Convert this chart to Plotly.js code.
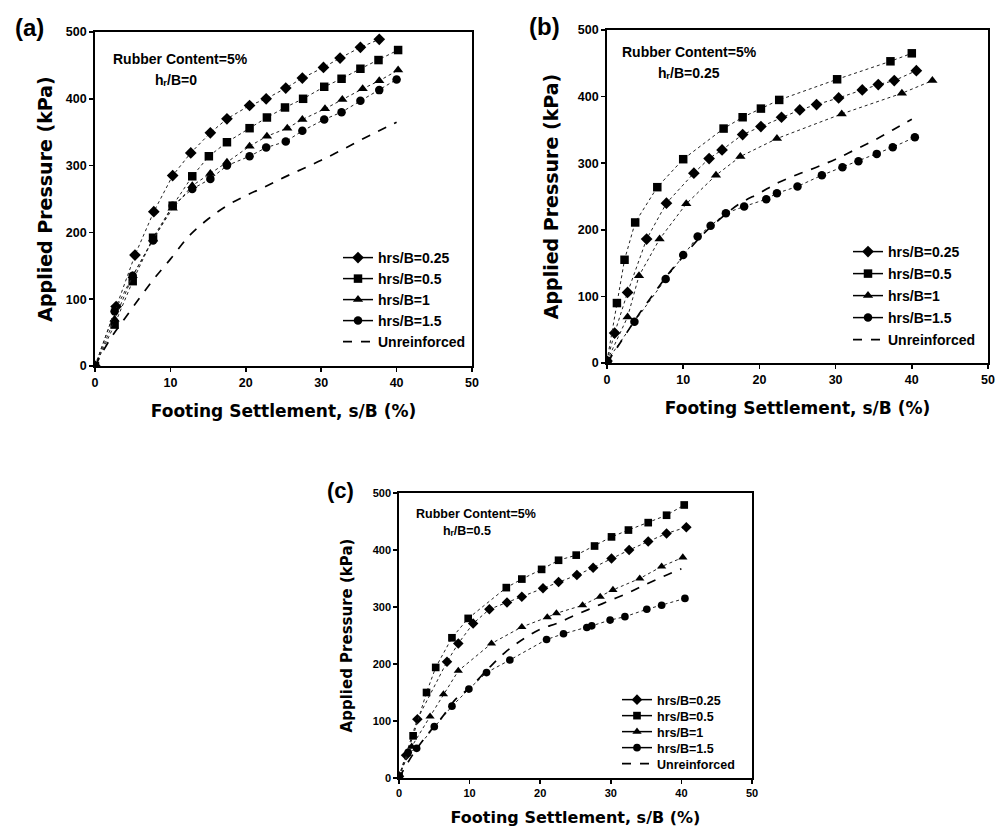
<!DOCTYPE html>
<html>
<head>
<meta charset="utf-8">
<script src="https://cdn.plot.ly/plotly-3.0.1.min.js"></script>
<style>html,body{margin:0;padding:0;background:#fff;}#chart{width:998px;height:831px;}</style>
</head>
<body>
<div id="chart"></div>
<script>
// ---------- Panel (a): hr/B = 0 ----------
const a_x025 = [0, 2.8, 5.3, 7.8, 10.3, 12.7, 15.3, 17.5, 20.5, 22.7, 25.3, 27.5, 30.3, 32.5, 35.2, 37.7];
const a_y025 = [0, 89, 166, 231, 285, 319, 349, 370, 390, 400, 416, 431, 447, 461, 477, 489];
const a_x05  = [0, 2.6, 5.0, 7.7, 10.3, 12.9, 15.1, 17.5, 20.5, 22.8, 25.2, 27.6, 30.4, 32.7, 35.2, 37.6, 40.2];
const a_y05  = [0, 62, 127, 192, 240, 284, 314, 335, 356, 372, 387, 400, 418, 430, 445, 458, 473];
const a_x1   = [0, 2.6, 5.0, 7.7, 10.3, 12.9, 15.3, 17.5, 20.5, 22.8, 25.5, 27.5, 30.5, 32.8, 35.5, 37.7, 40.2];
const a_y1   = [0, 70, 135, 190, 236, 270, 288, 305, 329, 344, 356, 369, 385, 399, 415, 427, 443];
const a_x15  = [0, 2.6, 5.0, 7.7, 10.3, 12.9, 15.3, 17.5, 20.5, 22.7, 25.3, 27.5, 30.4, 32.7, 35.2, 37.7, 40];
const a_y15  = [0, 82, 135, 188, 240, 265, 280, 300, 314, 327, 336, 352, 369, 380, 397, 413, 429];
const a_xU   = [0, 2, 4, 6, 8, 10, 12.5, 15, 17.5, 20, 22.5, 25, 27.5, 30, 32.5, 35, 37.5, 40];
const a_yU   = [0, 40, 72, 103, 133, 160, 195, 220, 240, 255, 268, 282, 295, 308, 322, 337, 351, 365];

// ---------- Panel (b): hr/B = 0.25 ----------
const b_x025 = [0, 1.0, 2.7, 5.2, 7.8, 11.4, 13.4, 15.1, 17.8, 20.2, 22.9, 25.3, 27.5, 30.4, 33.5, 35.6, 37.7, 40.6];
const b_y025 = [3, 45, 106, 186, 240, 285, 307, 320, 343, 355, 369, 380, 388, 398, 410, 418, 424, 439];
const b_x05  = [0, 1.3, 2.3, 3.7, 6.6, 10, 15.3, 17.8, 20.2, 22.6, 30.2, 37.2, 40.0];
const b_y05  = [3, 90, 155, 211, 264, 306, 352, 369, 382, 395, 426, 453, 465];
const b_x1   = [0, 2.7, 4.2, 6.9, 10.4, 14.3, 17.5, 22.3, 30.8, 38.7, 42.7];
const b_y1   = [3, 69, 131, 186, 239, 282, 310, 337, 374, 405, 424];
const b_x15  = [0, 3.6, 7.7, 10.0, 11.9, 13.6, 15.6, 18.0, 20.9, 22.3, 25.0, 28.2, 30.9, 33.0, 35.4, 37.5, 40.4];
const b_y15  = [3, 62, 126, 162, 190, 206, 225, 235, 246, 255, 265, 282, 294, 303, 314, 324, 339];
const b_xU   = [0, 2, 4, 6, 8, 10, 12.5, 15, 17.5, 20, 22.5, 25, 27.5, 30, 32.5, 35, 37.5, 40];
const b_yU   = [0, 35, 70, 102, 133, 160, 192, 218, 240, 255, 271, 283, 294, 306, 320, 334, 350, 366];

// ---------- Panel (c): hr/B = 0.5 ----------
const c_x025 = [0, 1.0, 2.6, 6.8, 8.4, 10.5, 12.8, 15.3, 17.4, 20.4, 22.6, 25.2, 27.5, 30.1, 32.6, 35.3, 37.9, 40.7];
const c_y025 = [3, 40, 103, 204, 236, 271, 296, 308, 318, 333, 344, 356, 369, 385, 400, 415, 429, 440];
const c_x05  = [0, 2.0, 3.9, 5.2, 7.5, 9.8, 15.2, 17.4, 20.2, 22.6, 25.1, 27.7, 30.1, 32.5, 35.3, 37.9, 40.4];
const c_y05  = [3, 74, 150, 194, 246, 280, 334, 349, 366, 382, 391, 407, 423, 435, 448, 461, 479];
const c_x1   = [0, 1.8, 4.4, 6.3, 8.4, 13.1, 17.4, 21.0, 22.3, 26.0, 28.5, 30.3, 34.1, 37.2, 40.2];
const c_y1   = [3, 55, 108, 147, 188, 236, 265, 282, 289, 303, 318, 330, 350, 371, 387];
const c_x15  = [0, 1.3, 2.5, 5.0, 7.5, 9.9, 12.4, 15.7, 20.9, 23.3, 26.6, 27.3, 29.9, 32.0, 35.1, 37.2, 40.5];
const c_y15  = [3, 45, 52, 90, 126, 156, 185, 207, 243, 253, 264, 267, 277, 283, 296, 303, 315];
const c_xU   = [0, 2, 4, 6, 8, 10, 12.5, 15, 17.5, 20, 22.5, 25, 27.5, 30, 32.5, 35, 37.5, 40];
const c_yU   = [0, 42, 76, 105, 138, 158, 190, 220, 243, 261, 272, 286, 299, 312, 325, 340, 354, 367];

const seriesNames = ["hrs/B=0.25", "hrs/B=0.5", "hrs/B=1", "hrs/B=1.5", "Unreinforced"];
const xTicks = [0, 10, 20, 30, 40, 50];
const yTicks = [0, 100, 200, 300, 400, 500];
const panelLabels = ["(a)", "(b)", "(c)"];
const noteLine1 = "Rubber Content=5%";
const noteLine2 = ["h\u1D63/B=0", "h\u1D63/B=0.25", "h\u1D63/B=0.5"];
const yTitle = "Applied Pressure (kPa)";
const xTitle = "Footing Settlement, s/B (%)";

const FONT = "Liberation Sans, Arial, sans-serif";
const WIDE = "DejaVu Sans, Verdana, sans-serif";
const W = 998, H = 831;
const px = v => v / W;
const py = v => 1 - v / H;

const symbols = ["diamond", "square", "triangle-up", "circle"];
const msizes = [9, 8.5, 9, 8.5];

let legCount = 0;
const legends = {};
function legKey(n) { return n === 1 ? "legend" : "legend" + n; }

function panelTraces(xs, ys, xa, ya, scale, legX, legYs, legFs) {
  const out = [];
  for (let i = 0; i < 5; i++) {
    legCount++;
    const k = legKey(legCount);
    legends[k] = {x: px(legX), y: py(legYs[i]), xanchor: "left", yanchor: "middle",
      bgcolor: "rgba(0,0,0,0)", borderwidth: 0, itemwidth: 30,
      font: {family: FONT, size: legFs, color: "#000", weight: "bold"}};
    if (i < 4) {
      out.push({type: "scatter", mode: "lines+markers", x: xs[i], y: ys[i], xaxis: xa, yaxis: ya,
        name: seriesNames[i], showlegend: false,
        line: {color: "#222", width: 1, dash: "dot"},
        marker: {symbol: symbols[i], size: msizes[i] * scale, color: "#000"}});
      // legend entry (solid line + marker), no data points of its own
      out.push({type: "scatter", mode: "lines+markers", x: [null], y: [null], xaxis: xa, yaxis: ya,
        name: seriesNames[i], legend: k, showlegend: true,
        line: {color: "#000", width: 1.5},
        marker: {symbol: symbols[i], size: msizes[i] * scale, color: "#000"}});
    } else {
      out.push({type: "scatter", mode: "lines", x: xs[i], y: ys[i], xaxis: xa, yaxis: ya,
        name: seriesNames[i], legend: k, showlegend: true,
        line: {color: "#000", width: 1.7, dash: "dash", shape: "spline"}});
    }
  }
  return out;
}

const data = [].concat(
  panelTraces([a_x025, a_x05, a_x1, a_x15, a_xU], [a_y025, a_y05, a_y1, a_y15, a_yU], "x", "y", 1,
    338, [258, 279, 300, 321, 342], 14),
  panelTraces([b_x025, b_x05, b_x1, b_x15, b_xU], [b_y025, b_y05, b_y1, b_y15, b_yU], "x2", "y2", 1,
    848, [252, 274, 296, 318, 340], 14),
  panelTraces([c_x025, c_x05, c_x1, c_x15, c_xU], [c_y025, c_y05, c_y1, c_y15, c_yU], "x3", "y3", 0.9,
    617, [700, 716, 732, 748, 764], 12.5)
);

function xaxis(d, anchor, fs, tfs, standoff) {
  return {domain: d, anchor: anchor, range: [0, 50], tickvals: xTicks, ticks: "outside", ticklen: 4,
    tickwidth: 1.5, tickcolor: "#000", showline: true, linecolor: "#000", linewidth: 1.8, mirror: true,
    showgrid: false, zeroline: false, automargin: false,
    tickfont: {family: FONT, size: fs, color: "#000", weight: "bold"},
    title: {text: xTitle, standoff: standoff, font: {family: WIDE, size: tfs, color: "#000", weight: "bold"}}};
}
function yaxis(d, anchor, fs, tfs, standoff) {
  return {domain: d, anchor: anchor, range: [0, 500], tickvals: yTicks, ticks: "outside", ticklen: 4,
    tickwidth: 1.5, tickcolor: "#000", showline: true, linecolor: "#000", linewidth: 1.8, mirror: true,
    showgrid: false, zeroline: false, automargin: false,
    tickfont: {family: FONT, size: fs, color: "#000", weight: "bold"},
    title: {text: yTitle, standoff: standoff, font: {family: WIDE, size: tfs, color: "#000", weight: "bold"}}};
}

const ann = [];
function txt(x, y, text, size, fam, opts) {
  ann.push(Object.assign({xref: "paper", yref: "paper", x: px(x), y: py(y), text: text, showarrow: false,
    font: {family: fam, size: size, color: "#000", weight: "bold"}, xanchor: "center", yanchor: "middle"}, opts || {}));
}
// panel labels
txt(29, 27, panelLabels[0], 24, FONT);
txt(544, 26, panelLabels[1], 24, FONT);
txt(340, 490, panelLabels[2], 22, FONT);
// notes
txt(180, 59, noteLine1, 14, FONT); txt(176, 80, noteLine2[0], 14, FONT);
txt(689, 52, noteLine1, 14, FONT); txt(689, 73, noteLine2[1], 14, FONT);
txt(476, 514, noteLine1, 12.5, FONT); txt(467, 531, noteLine2[2], 12.5, FONT);

const layout = Object.assign({
  width: W, height: H, margin: {l: 0, r: 0, t: 0, b: 0}, paper_bgcolor: "#fff", plot_bgcolor: "#fff",
  showlegend: true,
  xaxis: xaxis([px(95), px(472)], "y", 12.5, 17, 16),
  yaxis: yaxis([py(366), py(32)], "x", 12.5, 19, 8),
  xaxis2: xaxis([px(607), px(988)], "y2", 12.5, 17, 16),
  yaxis2: yaxis([py(363), py(30)], "x2", 12.5, 19, 14),
  xaxis3: xaxis([px(399), px(752)], "y3", 11, 16, 14),
  yaxis3: yaxis([py(778), py(493)], "x3", 11, 15, 16),
  annotations: ann
}, legends);

Plotly.newPlot("chart", data, layout, {staticPlot: true});
</script>
</body>
</html>
